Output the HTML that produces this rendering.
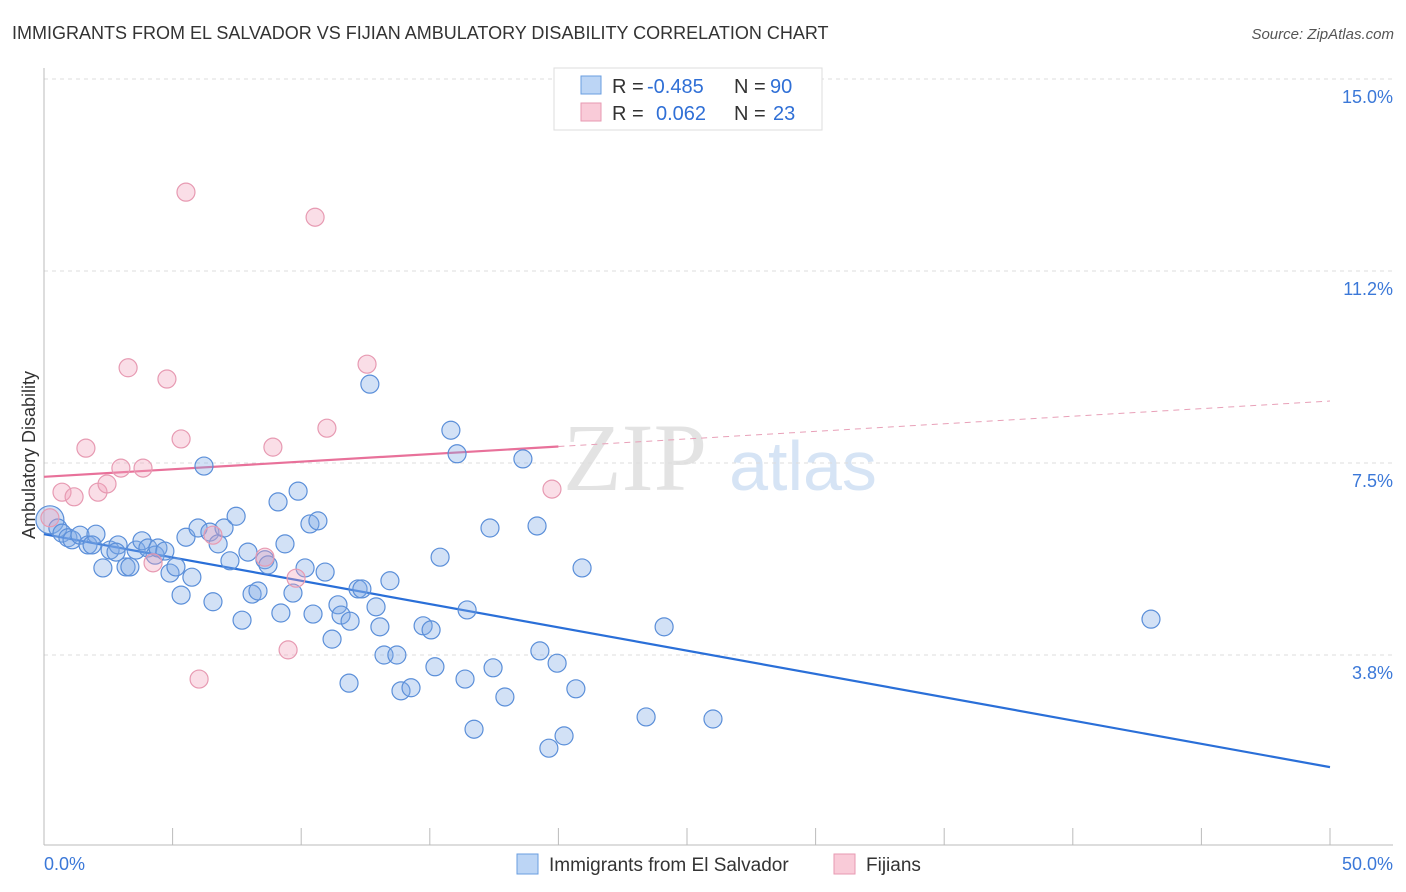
<!DOCTYPE html>
<html><head><meta charset="utf-8"><style>
body{margin:0;background:#fff;font-family:"Liberation Sans",sans-serif}
svg{display:block}
</style></head><body>
<svg id="chart" width="1406" height="892">
<text x="12" y="39" font-size="18" fill="#333">IMMIGRANTS FROM EL SALVADOR VS FIJIAN AMBULATORY DISABILITY CORRELATION CHART</text>
<text x="1394" y="39" font-size="15" fill="#555" font-style="italic" text-anchor="end">Source: ZipAtlas.com</text>
<g>
<text x="635" y="490" font-size="96" font-family="Liberation Serif,serif" fill="#e3e3e3" text-anchor="middle">ZIP</text>
<text x="803" y="490" font-size="70" fill="#d6e4f5" text-anchor="middle">atlas</text>
</g>
<g id="grid"></g>
<g id="axes"></g>
<g id="lines"></g>
<g id="dots"></g>
<text transform="translate(35,455) rotate(-90)" font-size="18" fill="#333" text-anchor="middle">Ambulatory Disability</text>
<g>
<rect x="554" y="68" width="268" height="62" fill="#fff" stroke="#ddd"/>
<rect x="581" y="76" width="20" height="18" fill="#bcd5f5" stroke="#6a9ee0"/>
<rect x="581" y="103" width="20" height="18" fill="#f9cbd8" stroke="#e79ab2"/>
<text x="612" y="93" font-size="20" fill="#333">R =</text>
<text x="647" y="93" font-size="20" fill="#2f6fd6">-0.485</text>
<text x="734" y="93" font-size="20" fill="#333">N =</text>
<text x="770" y="93" font-size="20" fill="#2f6fd6">90</text>
<text x="612" y="120" font-size="20" fill="#333">R =</text>
<text x="656" y="120" font-size="20" fill="#2f6fd6">0.062</text>
<text x="734" y="120" font-size="20" fill="#333">N =</text>
<text x="773" y="120" font-size="20" fill="#2f6fd6">23</text>
</g>
<g>
<rect x="517" y="854" width="21" height="20" fill="#bcd5f5" stroke="#6a9ee0"/>
<text x="549" y="871" font-size="19" fill="#333">Immigrants from El Salvador</text>
<rect x="834" y="854" width="21" height="20" fill="#f9cbd8" stroke="#e79ab2"/>
<text x="866" y="871" font-size="19" fill="#333">Fijians</text>
</g>
</svg>
<script>
const yTicks=[15.0,11.2,7.5,3.8];
const yTickVals=[15,11.25,7.5,3.75];
const xTickLabels=["0.0%","50.0%"];
const blueX=[.23,.54,.70,.93,1.09,1.40,1.71,2.02,1.87,2.29,2.57,2.88,2.80,3.19,3.34,3.58,3.81,4.04,4.32,4.43,4.70,4.90,5.13,5.33,5.52,5.75,5.99,6.22,6.45,6.57,6.77,7.00,7.23,7.47,7.70,7.93,8.09,8.32,8.59,8.71,9.10,9.21,9.37,9.68,9.88,10.15,10.34,10.46,10.65,10.93,11.20,11.43,11.55,11.86,11.90,12.21,12.36,12.67,12.91,13.06,13.22,13.45,13.72,13.88,14.27,14.74,15.05,15.20,15.40,15.82,16.06,16.37,16.45,16.72,17.34,17.46,17.92,18.62,19.17,19.28,19.63,19.95,20.22,20.68,20.92,23.41,24.11,26.01,43.04];
const blueY=[6.39,6.23,6.13,6.04,6.00,6.09,5.90,6.11,5.90,5.45,5.80,5.90,5.76,5.47,5.47,5.80,5.98,5.84,5.70,5.84,5.78,5.35,5.47,4.92,6.05,5.27,6.23,7.44,6.15,4.79,5.92,6.23,5.59,6.46,4.43,5.76,4.94,5.00,5.61,5.51,6.74,4.57,5.92,4.96,6.95,5.45,6.31,4.55,6.37,5.37,4.06,4.73,4.53,3.20,4.41,5.04,5.04,9.04,4.69,4.30,3.75,5.20,3.75,3.05,3.11,4.32,4.24,3.52,5.66,8.14,7.68,3.28,4.63,2.30,6.23,3.50,2.93,7.58,6.27,3.83,1.93,3.59,2.17,3.09,5.45,2.54,4.30,2.50,4.45];
const pinkX=[.23,.70,1.17,1.63,2.10,2.45,2.99,3.27,3.85,4.24,4.78,5.33,5.52,6.03,6.57,8.59,8.90,9.49,9.80,10.54,11.00,12.56,19.75];
const pinkY=[6.43,6.93,6.84,7.79,6.93,7.09,7.40,9.36,7.40,5.55,9.14,7.97,12.79,3.28,6.09,5.66,7.81,3.85,5.25,12.30,8.18,9.43,6.99];
const blueTrend=[6.11,1.56];
const pinkTrend=[7.23,8.71];
const pinkSolidEnd=20;
const NS="http://www.w3.org/2000/svg";
const X=v=>44+v*25.72, Y=v=>79+(15-v)*51.2;
function mk(p,t,a){const e=document.createElementNS(NS,t);for(const k in a)e.setAttribute(k,a[k]);p.appendChild(e);return e;}
const grid=document.getElementById('grid'),axes=document.getElementById('axes'),lines=document.getElementById('lines'),dots=document.getElementById('dots');
const tg=mk(grid,'line',{x1:44,x2:1393,y1:79,y2:79,stroke:'#ddd','stroke-dasharray':'4,4'});


yTickVals.forEach((v,i)=>{
 const l=mk(grid,'line',{x1:44,x2:1393,y1:Y(v),y2:Y(v),stroke:'#ddd','stroke-dasharray':'4,4'});
 
 
 const t=mk(axes,'text',{x:1393,y:Y(v)+24,'font-size':18,fill:'#3b78d8','text-anchor':'end'});
 t.textContent=yTicks[i].toFixed(1)+'%';
 
 
});
const ya=mk(axes,'line',{x1:44,x2:44,y1:68,y2:845,stroke:'#bbb'});


const xa=mk(axes,'line',{x1:44,x2:1393,y1:845,y2:845,stroke:'#bbb'});


for(let v=5;v<=50;v+=5){
 const tk=mk(axes,'line',{x1:X(v),x2:X(v),y1:828,y2:845,stroke:'#bbb'});
 
 
}
[[0,'start',44],[50,'end',1393]].forEach((a,i)=>{
 const t=mk(axes,'text',{x:a[2],y:870,'font-size':18,fill:'#3b78d8','text-anchor':a[1]});
 t.textContent=xTickLabels[i];
 
 
});
function dot(x,y,r,fill,stroke,name){
 const c=mk(dots,'circle',{cx:X(x),cy:Y(y),r:r,fill:fill,stroke:stroke,'stroke-width':1.2});
 
 
}
blueX.forEach((x,i)=>dot(x,blueY[i],i===0?14:9,'rgba(125,170,230,0.35)','#5b8fd9','el-salvador-point'));
pinkX.forEach((x,i)=>dot(x,pinkY[i],9,'rgba(240,160,185,0.35)','#e79ab2','fijians-point'));
const bl=mk(lines,'line',{x1:X(0),y1:Y(blueTrend[0]),x2:X(50),y2:Y(blueTrend[1]),stroke:'#2a6fd8','stroke-width':2.2});


const pAt=v=>pinkTrend[0]+(pinkTrend[1]-pinkTrend[0])*v/50;
const ps=mk(lines,'line',{x1:X(0),y1:Y(pAt(0)),x2:X(pinkSolidEnd),y2:Y(pAt(pinkSolidEnd)),stroke:'#e8719a','stroke-width':2.2});


const pd=mk(lines,'line',{x1:X(pinkSolidEnd),y1:Y(pAt(pinkSolidEnd)),x2:X(50),y2:Y(pAt(50)),stroke:'#e8a0b8','stroke-width':1,'stroke-dasharray':'6,5'});


</script>
</body></html>
